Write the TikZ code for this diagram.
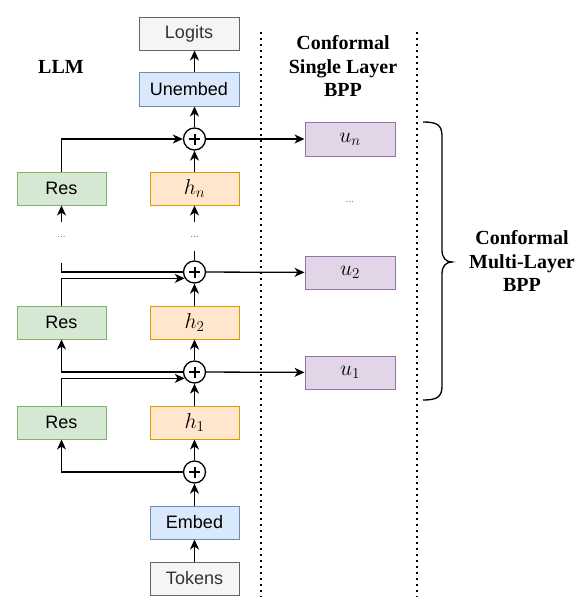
\RequirePackage{fix-cm}
\documentclass[tikz,border=0pt]{standalone}
\usepackage{fontspec}
\newfontfamily\sansf{Liberation Sans}
\newfontfamily\serifb{Liberation Serif}
\usetikzlibrary{arrows.meta}
\definecolor{grayfill}{HTML}{F5F5F5}
\definecolor{graydraw}{HTML}{666666}
\definecolor{bluefill}{HTML}{DAE8FC}
\definecolor{bluedraw}{HTML}{6C8EBF}
\definecolor{greenfill}{HTML}{D5E8D4}
\definecolor{greendraw}{HTML}{82B366}
\definecolor{orangefill}{HTML}{FFE6CC}
\definecolor{orangedraw}{HTML}{D79B00}
\definecolor{purplefill}{HTML}{E1D5E7}
\definecolor{purpledraw}{HTML}{9673A6}
\tikzset{
  box/.style={draw, line width=1pt, minimum width=89pt, minimum height=33pt, inner sep=0pt,
    font=\sansf\fontsize{18}{21}\selectfont, text=black},
  graybox/.style={box, fill=grayfill, draw=graydraw, text=black!80},
  bluebox/.style={box, fill=bluefill, draw=bluedraw},
  greenbox/.style={box, fill=greenfill, draw=greendraw},
  orangebox/.style={box, fill=orangefill, draw=orangedraw, font=\fontsize{21.5}{25}\selectfont},
  purplebox/.style={box, fill=purplefill, draw=purpledraw, minimum width=90pt, font=\fontsize{21.5}{25}\selectfont},
  plusnode/.style={circle, draw, line width=1.3pt, minimum size=22pt, inner sep=0pt, fill=white,
    path picture={\draw[line width=2pt] ([xshift=-5.5pt]path picture bounding box.center) -- ([xshift=5.5pt]path picture bounding box.center);
                  \draw[line width=2pt] ([yshift=-5.5pt]path picture bounding box.center) -- ([yshift=5.5pt]path picture bounding box.center);}},
  conn/.style={line width=1.3pt, -{Stealth[length=10pt,width=9pt,inset=3pt]}},
  plain/.style={line width=1.3pt},
  title/.style={font=\serifb\bfseries\fontsize{20}{23.5}\selectfont, align=center},
  dotsnode/.style={font=\sansf\fontsize{10}{10}\selectfont, text=black!55, inner sep=0pt},
  sep/.style={line width=2pt, dash pattern=on 2pt off 4pt}
}
\begin{document}
\begin{tikzpicture}[x=1pt,y=-1pt]
\useasboundingbox[fill=white] (0,0) rectangle (586,608);

% column boxes
\node[graybox, minimum width=100pt] (logits) at (189,33.5) {Logits};
\node[bluebox, minimum width=100pt, minimum height=34pt] (unemb) at (189,89) {Unembed};
\node[plusnode] (cn) at (194.5,139) {};
\node[greenbox] (rn) at (61.5,188.5) {Res};
\node[orangebox] (hn) at (194.5,188.5) {$h_n$};
\node[dotsnode] (rdots) at (61.5,237) {...};
\node[dotsnode] (hdots) at (194.5,237) {...};
\node[plusnode] (c2) at (194.5,272) {};
\node[greenbox] (r2) at (61.5,322.5) {Res};
\node[orangebox] (h2) at (194.5,322.5) {$h_2$};
\node[plusnode] (c1) at (194.5,372) {};
\node[greenbox] (r1) at (61.5,422.5) {Res};
\node[orangebox] (h1) at (194.5,422.5) {$h_1$};
\node[plusnode] (c0) at (194.5,472) {};
\node[bluebox] (emb) at (194.5,522.5) {Embed};
\node[graybox] (tok) at (194.5,578.5) {Tokens};

% BPP boxes
\node[purplebox, minimum height=34pt] (un) at (350,139) {$u_n$};
\node[dotsnode] (udots) at (350,202) {...};
\node[purplebox] (u2) at (350,272.5) {$u_2$};
\node[purplebox] (u1) at (350,372.5) {$u_1$};

% titles
\node[title] (llm) at (61,67) {LLM};
\node[title] (single) at (343,66) {Conformal\\Single Layer\\BPP};
\node[title] (multi) at (522,261) {Conformal\\Multi-Layer\\BPP};

% separators
\coordinate (d1t) at (261,32); \coordinate (d1b) at (261,597);
\coordinate (d2t) at (417,32); \coordinate (d2b) at (417,597);
\draw[sep] (d1t) -- (d1b);
\draw[sep] (d2t) -- (d2b);

% connectors
\draw[conn] (tok) -- (emb);
\draw[conn] (emb) -- (c0);
\draw[conn] (c0) -- (h1);
\draw[conn] (c0.west) -| (r1.south);
\draw[conn] (r1.north) |- (c1.213);
\draw[conn] (h1) -- (c1);
\draw[conn] (c1) -- (h2);
\draw[conn] (c1.west) -| (r2.south);
\draw[conn] (c1) -- (u1);
\draw[conn] (r2.north) |- (c2.213);
\draw[conn] (h2) -- (c2);
\draw[conn] (c2) -- (u2);
\coordinate (resbreak) at (61.5,263);
\coordinate (hbreak) at (194.5,251);
\draw[plain] (c2.west) -| (resbreak);
\draw[plain] (c2.north) -- (hbreak);
\coordinate (rstart) at (61.5,222);
\coordinate (hstart) at (194.5,222);
\draw[conn] (rstart) -- (rn.south);
\draw[conn] (hstart) -- (hn.south);
\draw[conn] (hn) -- (cn);
\draw[conn] (rn.north) |- (cn.west);
\draw[conn] (cn) -- (un);
\draw[conn] (cn.north) -- (cn |- unemb.south);
\draw[conn] (cn |- unemb.north) -- (cn |- logits.south);

% brace
\coordinate (bt) at (423,122);
\coordinate (bb) at (423,400);
\coordinate (btip) at (452,262);
\draw[line width=1.3pt] (bt) .. controls (437,122) and (442,125) .. (442,136) -- (442,250)
   .. controls (442,258) and (446,262) .. (btip)
   .. controls (446,262) and (442,266) .. (442,274) -- (442,386)
   .. controls (442,397) and (437,400) .. (bb);
\end{tikzpicture}
\end{document}
